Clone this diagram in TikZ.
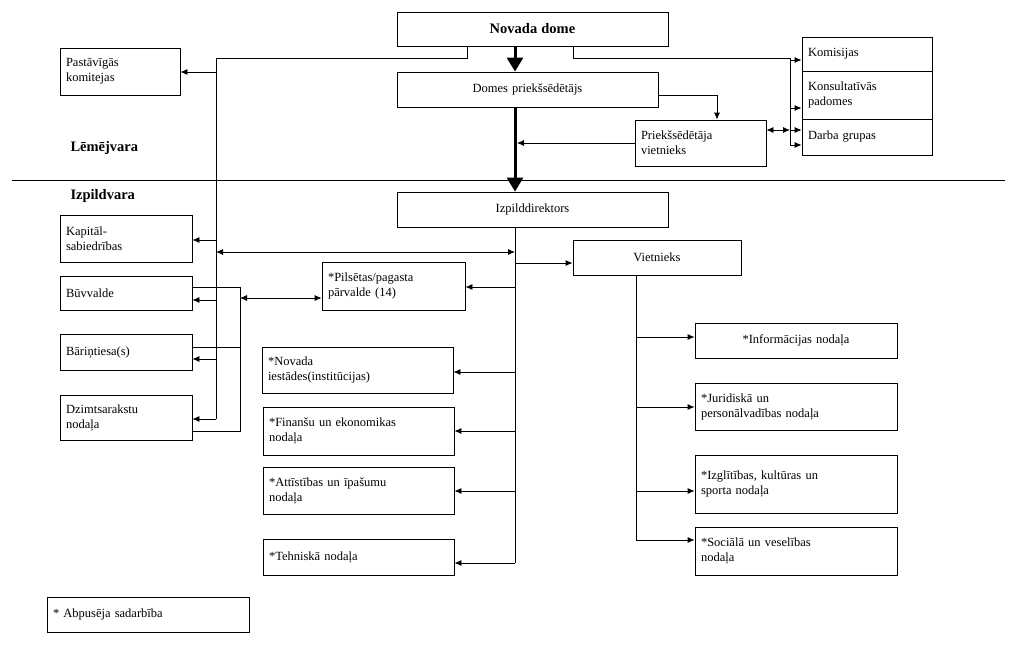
\documentclass[tikz,border=0pt]{standalone}
\usepackage{fontspec}
\setmainfont{Liberation Serif}
\usetikzlibrary{arrows.meta}
\newcommand\bx[7][left]{\node[box,align=#1,text width={#5-#3-12},minimum width={#5-#3},minimum height={#6-#4}] (#2) at ({(#3+#5)/2},{(#4+#6)/2}) {#7};}
\begin{document}
\begin{tikzpicture}[x=1pt,y=-1pt,
  box/.style={draw,line width=0.8pt,inner sep=0pt,font=\fontsize{12.5}{15}\selectfont},
  ln/.style={line width=0.8pt},
  ar/.style={ln,-{Latex[length=7pt,width=6pt]}},
  dar/.style={ln,{Latex[length=7pt,width=6pt]}-{Latex[length=7pt,width=6pt]}},
  thick arrow/.style={line width=3pt,-{Triangle[length=14pt,width=16pt]}}]
\useasboundingbox (0,0) rectangle (1024,646);
\bx[center]{nd}{397}{12}{668}{46}{\textbf{\fontsize{14.5}{16}\selectfont Novada dome}}
\bx[center]{dp}{397}{72}{658}{107}{Domes priekšsēdētājs}
\bx{pv}{635}{120}{766}{166}{Priekšsēdētāja\\ vietnieks}
\bx{ko}{802}{37}{932}{71}{Komisijas}
\bx{kp}{802}{71}{932}{119}{Konsultatīvās\\padomes}
\bx{dg}{802}{119}{932}{155}{Darba grupas}
\bx{pk}{60}{48}{180}{95}{Pastāvīgās\\komitejas}
\node[font=\bfseries\fontsize{14.5}{16}\selectfont,anchor=west] (lv) at (67,148) {Lēmējvara};
\node[font=\bfseries\fontsize{14.5}{16}\selectfont,anchor=west] (iv) at (67,196) {Izpildvara};
\coordinate (hl) at (12,180); \coordinate (hr) at (1005,180);
\draw[line width=0.6pt] (hl) -- (hr);
\bx[center]{id}{397}{192}{668}{227}{Izpilddirektors}
\bx{ks}{60}{215}{192}{262}{Kapitāl-\\sabiedrības}
\bx{bv}{60}{276}{192}{310}{Būvvalde}
\bx{bt}{60}{334}{192}{370}{Bāriņtiesa(s)}
\bx{dz}{60}{395}{192}{440}{Dzimtsarakstu\\nodaļa}
\bx{pp}{322}{262}{465}{310}{*Pilsētas/pagasta\\pārvalde (14)}
\bx{ni}{262}{347}{453}{393}{*Novada\\iestādes(institūcijas)}
\bx{fe}{263}{407}{454}{455}{*Finanšu un ekonomikas\\nodaļa}
\bx{ai}{263}{467}{454}{514}{*Attīstības un īpašumu\\nodaļa}
\bx{tn}{263}{539}{454}{575}{*Tehniskā nodaļa}
\bx[center]{vi}{573}{240}{741}{275}{Vietnieks}
\bx[center]{in}{695}{323}{897}{358}{*Informācijas nodaļa}
\bx{ju}{695}{383}{897}{430}{*Juridiskā un\\personālvadības nodaļa}
\bx{iz}{695}{455}{897}{513}{*Izglītības, kultūras un\\sporta nodaļa}
\bx{so}{695}{527}{897}{575}{*Sociālā un veselības\\nodaļa}
\bx{ab}{47}{597}{249}{632}{* Abpusēja sadarbība}
% thick
\draw[thick arrow] (515,46) -- (dp.north-|515,0);
\draw[thick arrow] (515,107) -- (id.north-|515,0);
% left trunk
\draw[ln] (467,46) |- (216,58) -- (216,419);
\draw[ar] (216,72) -- (pk.east|-0,72);
\draw[ar] (216,240) -- (ks.east|-0,240);
\draw[ar] (216,300) -- (bv.east|-0,300);
\draw[ar] (216,359) -- (bt.east|-0,359);
\draw[ar] (216,419) -- (dz.east|-0,419);
\draw[ln] (bv.east|-0,287) -| (240,431) -- (dz.east|-0,431);
\draw[ln] (bt.east|-0,347) -- (240,347);
\draw[dar] (240,298) -- (pp.west|-0,298);
\draw[dar] (216,252) -- (515,252);
% right trunk
\draw[ln] (573,46) |- (790,58) -- (790,145);
\draw[ar] (790,60) -- (ko.west|-0,60);
\draw[ar] (790,108) -- (kp.west|-0,108);
\draw[ar] (790,130) -- (dg.west|-0,130);
\draw[ar] (790,145) -- (dg.west|-0,145);
\draw[dar] (pv.east|-0,130) -- (790,130);
\draw[ar] (dp.east|-0,95) -| (pv.north-|717,0);
\draw[ar] (pv.west|-0,143) -- (517,143);
% izpilddirektors trunk
\draw[ln] (id.south-|515,0) -- (515,563);
\draw[ar] (515,287) -- (pp.east|-0,287);
\draw[ar] (515,372) -- (ni.east|-0,372);
\draw[ar] (515,431) -- (fe.east|-0,431);
\draw[ar] (515,491) -- (ai.east|-0,491);
\draw[ar] (515,563) -- (tn.east|-0,563);
\draw[ar] (515,263) -- (vi.west|-0,263);
% vietnieks trunk
\draw[ln] (vi.south-|636,0) -- (636,540);
\draw[ar] (636,337) -- (in.west|-0,337);
\draw[ar] (636,407) -- (ju.west|-0,407);
\draw[ar] (636,491) -- (iz.west|-0,491);
\draw[ar] (636,540) -- (so.west|-0,540);
\end{tikzpicture}
\end{document}
